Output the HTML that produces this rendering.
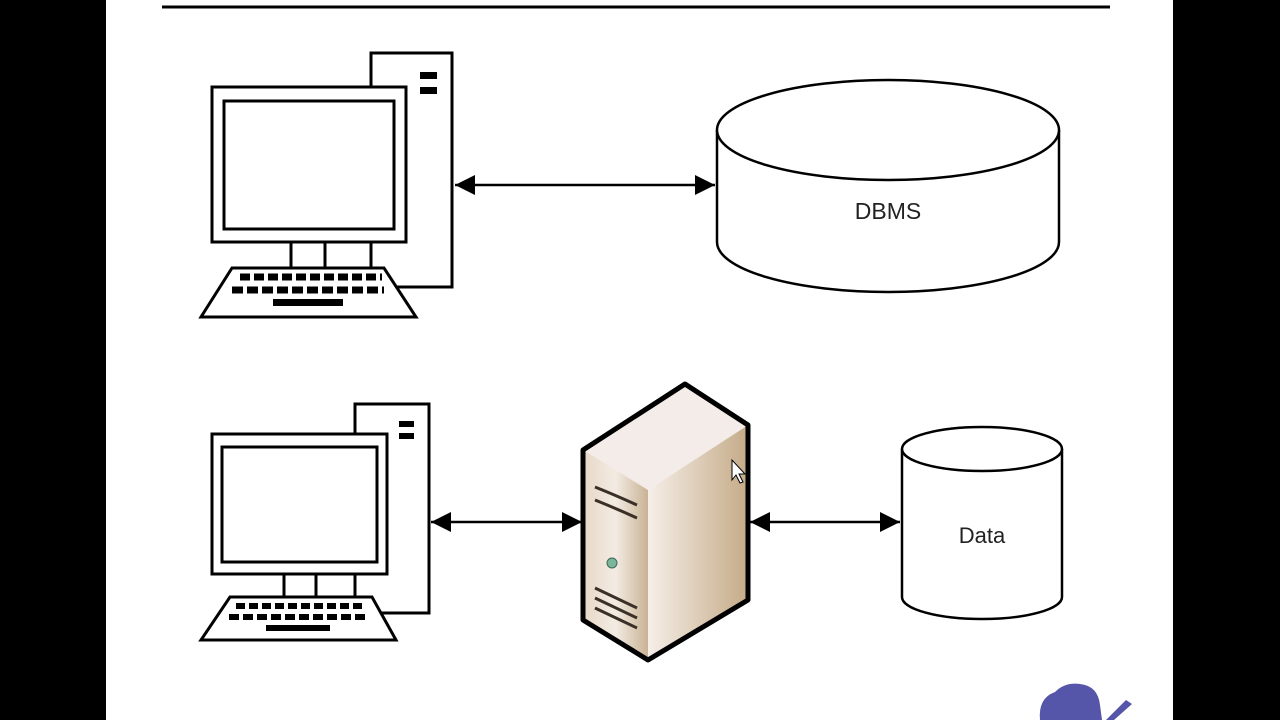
<!DOCTYPE html>
<html><head><style>
html,body{margin:0;padding:0;background:#000;}
body{width:1280px;height:720px;position:relative;overflow:hidden;}
</style></head><body>
<svg width="1280" height="720" viewBox="0 0 1280 720" xmlns="http://www.w3.org/2000/svg" style="position:absolute;left:0;top:0">
<defs>
<linearGradient id="fr" x1="0" y1="0" x2="1" y2="0">
<stop offset="0" stop-color="#e7d8c6"/><stop offset="0.5" stop-color="#f3ebe3"/><stop offset="1" stop-color="#c9b394"/>
</linearGradient>
<linearGradient id="sd" x1="0" y1="0" x2="1" y2="0">
<stop offset="0" stop-color="#f6eee8"/><stop offset="1" stop-color="#c5ab88"/>
</linearGradient>
<marker id="ah" markerWidth="10" markerHeight="10" refX="9" refY="5" orient="auto-start-reverse" markerUnits="userSpaceOnUse">
<path d="M0,0 L10,5 L0,10 Z" fill="#000"/>
</marker>
<marker id="ah2" viewBox="0 0 10 10" markerWidth="20" markerHeight="22" refX="10" refY="5" orient="auto-start-reverse" markerUnits="userSpaceOnUse">
<path d="M0,0 L10,5 L0,10 Z" fill="#000"/>
</marker>
</defs>
<rect x="106" y="0" width="1067" height="720" fill="#fff"/>
<line x1="162" y1="7" x2="1110" y2="7" stroke="#000" stroke-width="3"/>

<!-- computer 1 -->
<g fill="#fff" stroke="#000" stroke-width="3">
<rect x="371" y="53" width="81" height="234"/>
<rect x="212" y="87" width="194" height="155"/>
<rect x="224" y="101" width="170" height="128"/>
<line x1="291" y1="242" x2="291" y2="268"/><line x1="325" y1="242" x2="325" y2="268"/><line x1="371" y1="242" x2="371" y2="268"/>
<polygon points="232,268 384,268 416,317 201,317"/>
</g>
<rect x="420" y="72" width="17" height="7" fill="#000"/><rect x="420" y="87" width="17" height="7" fill="#000"/>
<g fill="#000">
<path d="M240,277 h142" stroke="#000" stroke-width="7" stroke-dasharray="10,4"/>
<path d="M232,290 h152" stroke="#000" stroke-width="7" stroke-dasharray="11,4"/>
<rect x="273" y="299" width="70" height="7"/>
</g>

<!-- computer 2 -->
<g fill="#fff" stroke="#000" stroke-width="3">
<rect x="355" y="404" width="74" height="209"/>
<rect x="212" y="434" width="175" height="140"/>
<rect x="222" y="447" width="155" height="115"/>
<line x1="284" y1="574" x2="284" y2="597"/><line x1="316" y1="574" x2="316" y2="597"/><line x1="355" y1="574" x2="355" y2="597"/>
<polygon points="230,597 372,597 396,640 201,640"/>
</g>
<rect x="399" y="421" width="15" height="6" fill="#000"/><rect x="399" y="433" width="15" height="6" fill="#000"/>
<g fill="#000">
<path d="M236,606 h130" stroke="#000" stroke-width="6" stroke-dasharray="9,4"/>
<path d="M229,617 h140" stroke="#000" stroke-width="6" stroke-dasharray="10,4"/>
<rect x="266" y="625" width="64" height="6"/>
</g>

<!-- server -->
<polygon points="648,490 748,425 748,600 648,660" fill="url(#sd)"/>
<path d="M583,450 Q620,470 648,490 L648,660 L583,620 Z" fill="url(#fr)"/>
<polygon points="685,384 748,425 648,490 583,450" fill="#f4ece8"/>
<polygon points="685,384 748,425 748,600 648,660 583,620 583,450" fill="none" stroke="#000" stroke-width="5" stroke-linejoin="round"/>
<g stroke="#3a3028" stroke-width="3" fill="none">
<path d="M595,487 Q615,495 637,505"/>
<path d="M595,500 Q615,508 637,518"/>
<path d="M595,588 L637,608"/><path d="M595,598 L637,618"/><path d="M595,608 L637,628"/>
</g>
<circle cx="612" cy="563" r="5" fill="#7bb59a" stroke="#3b6b57" stroke-width="1"/>
<path d="M732,460 l0,20 l4,-5 l4,8 l3,-1 l-4,-8 l6,0 z" fill="#fff" stroke="#000" stroke-width="1"/>

<!-- DBMS cylinder -->
<path d="M717,130 L717,242 A171,50 0 0 0 1059,242 L1059,130" fill="#fff" stroke="#000" stroke-width="2.5"/>
<ellipse cx="888" cy="130" rx="171" ry="50" fill="#fff" stroke="#000" stroke-width="2.5"/>
<text x="888" y="219" font-family="Liberation Sans, sans-serif" font-size="23" text-anchor="middle" fill="#222">DBMS</text>

<!-- Data cylinder -->
<path d="M902,449 L902,597 A80,22 0 0 0 1062,597 L1062,449" fill="#fff" stroke="#000" stroke-width="2.5"/>
<ellipse cx="982" cy="449" rx="80" ry="22" fill="#fff" stroke="#000" stroke-width="2.5"/>
<text x="982" y="543" font-family="Liberation Sans, sans-serif" font-size="22" text-anchor="middle" fill="#222">Data</text>

<!-- arrows -->
<g stroke="#000" stroke-width="2.5">
<line x1="455" y1="185" x2="715" y2="185" marker-start="url(#ah2)" marker-end="url(#ah2)"/>
<line x1="431" y1="522" x2="582" y2="522" marker-start="url(#ah2)" marker-end="url(#ah2)"/>
<line x1="750" y1="522" x2="900" y2="522" marker-start="url(#ah2)" marker-end="url(#ah2)"/>
</g>

<!-- logo -->
<path d="M1040,720 Q1038,698 1055,692 Q1065,682 1080,684 Q1098,686 1100,705 L1102,720 Z" fill="#5555aa"/>
<path d="M1106,720 L1126,700 L1132,704 L1114,720 Z" fill="#5555aa"/>
</svg>
</body></html>
